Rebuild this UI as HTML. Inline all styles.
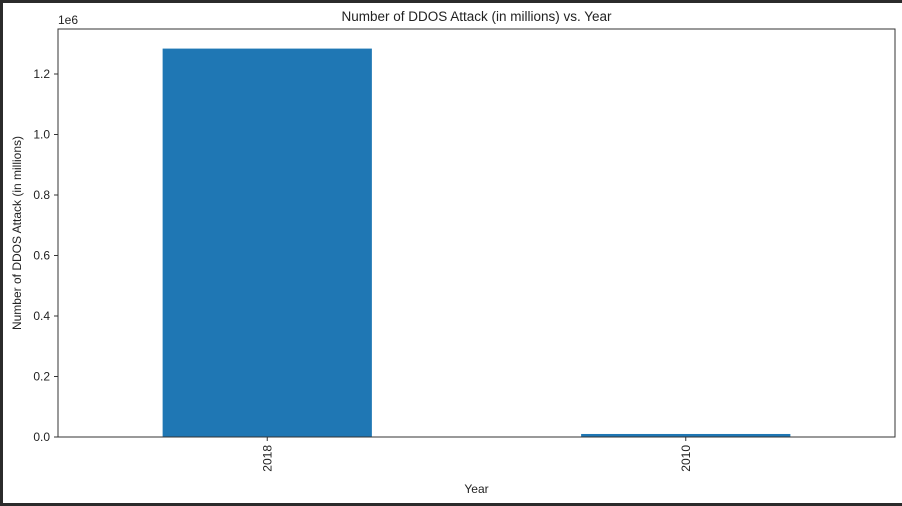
<!DOCTYPE html>
<html><head><meta charset="utf-8"><style>
body{margin:0;width:902px;height:506px;overflow:hidden;background:#fff;font-family:"Liberation Sans","DejaVu Sans",sans-serif}
</style></head><body>
<svg width="902" height="506" style="display:block">
<rect x="0" y="0" width="902" height="506" fill="#fff"/>
<rect x="0" y="0" width="902" height="3" fill="#2b2b2b"/>
<rect x="0" y="0" width="3" height="506" fill="#2b2b2b"/>
<rect x="0" y="503" width="902" height="3" fill="#2b2b2b"/>
<g id="plot"></g>
</svg>
<script>
const categories=["2018","2010"];
const values=[1284000,10000];
const yTicks=[0,0.2,0.4,0.6,0.8,1.0,1.2];
const yTickLabels=["0.0","0.2","0.4","0.6","0.8","1.0","1.2"];
const L=58,R=895,T=29,B=437;
const ns="http://www.w3.org/2000/svg";
const g=document.getElementById('plot');
function y(v){return B-(v/1e6)*(B-74)/1.2;}
function xc(i){return L+(R-L)*(i+0.5)/categories.length;}
const bw=(R-L)/categories.length*0.5;
function el(t,a,txt){const e=document.createElementNS(ns,t);for(const k in a)e.setAttribute(k,a[k]);if(txt!==undefined)e.textContent=txt;g.appendChild(e);return e;}
values.forEach((v,i)=>{
 const r=el('rect',{x:xc(i)-bw/2,y:y(v),width:bw,height:B-y(v),fill:'#1f77b4'});
 
 
 el('line',{x1:xc(i),x2:xc(i),y1:B,y2:B+4,stroke:'#333','stroke-width':1});
 const t=el('text',{x:0,y:0,'font-size':12,fill:'#222','text-anchor':'end',transform:`translate(${xc(i)+4},${B+8}) rotate(-90)`},categories[i]);
 
 
});
yTicks.forEach((v,i)=>{
 const yy=y(v*1e6);
 el('line',{x1:L-4,x2:L,y1:yy,y2:yy,stroke:'#333','stroke-width':1});
 const t=el('text',{x:L-8,y:yy+4,'font-size':12,fill:'#222','text-anchor':'end'},yTickLabels[i]);
 
 
});
const fr=el('rect',{x:L,y:T,width:R-L,height:B-T,fill:'none',stroke:'#333','stroke-width':1});


const off=el('text',{x:L,y:T-5,'font-size':12,fill:'#222'},'1e6');


const tt=el('text',{x:(L+R)/2,y:21,'font-size':13.5,fill:'#222','text-anchor':'middle'},'Number of DDOS Attack (in millions) vs. Year');


const xt=el('text',{x:(L+R)/2,y:493,'font-size':12,fill:'#222','text-anchor':'middle'},'Year');


const yt=el('text',{x:0,y:0,'font-size':12,fill:'#222','text-anchor':'middle',transform:`translate(21,${(T+B)/2}) rotate(-90)`},'Number of DDOS Attack (in millions)');


</script>
</body></html>
